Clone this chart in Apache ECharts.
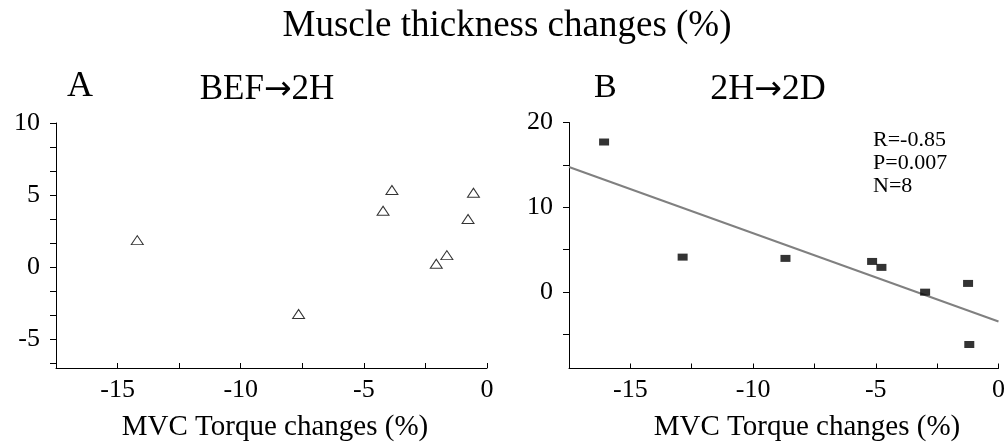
<!DOCTYPE html>
<html>
<head>
<meta charset="utf-8">
<script src="https://cdn.jsdelivr.net/npm/echarts@6/dist/echarts.min.js"></script>
<style>
  html, body { margin: 0; padding: 0; background: #fff; }
  #chart { width: 1008px; height: 445px; }
</style>
</head>
<body>
<div id="chart"></div>
<script>
// Panel A (BEF→2H): MVC torque change vs muscle thickness change, %
const torqueA = [-14.2, -7.65, -4.22, -3.86, -2.06, -1.63, -0.77, -0.55];
const thicknessA = [1.87, -3.25, 3.91, 5.35, 0.23, 0.83, 3.34, 5.16];

// Panel B (2H→2D)
const torqueB = [-16.07, -12.87, -8.68, -5.15, -4.77, -2.99, -1.24, -1.19];
const thicknessB = [17.7, 4.13, 3.98, 3.62, 2.92, 0.0, 1.03, -6.17];

// Regression line of panel B, taken at the ends of the x range
const fitLineB = [[-17.5, 14.76], [0, -3.46]];
const statsB = ['R=-0.85', 'P=0.007', 'N=8'];

// Tick positions and labelled values
const xTicks = [-17.5, -15, -12.5, -10, -7.5, -5, -2.5, 0];
const xLabels = [-15, -10, -5, 0];
const yTicksA = [-20 / 3, -5, -10 / 3, -5 / 3, 0, 5 / 3, 10 / 3, 5, 20 / 3, 25 / 3, 10];
const yLabelsA = [-5, 0, 5, 10];
const yTicksB = [-5, 0, 5, 10, 15, 20];
const yLabelsB = [0, 10, 20];

const FONT = '"Liberation Serif", "Times New Roman", serif';

const pairs = (xs, ys) => xs.map((x, i) => [x, ys[i]]);

function xAxisCfg(gridIndex) {
  return {
    type: 'value', gridIndex, min: -17.5, max: 0,
    axisLine: { show: true, onZero: false, lineStyle: { color: '#000', width: 1 } },
    axisTick: { show: true, inside: true, length: 5, customValues: xTicks, lineStyle: { color: '#000' } },
    axisLabel: { customValues: xLabels, color: '#000', fontFamily: FONT, fontSize: 26, margin: 9 },
    splitLine: { show: false }
  };
}

function yAxisCfg(gridIndex, min, max, ticks, labels) {
  return {
    type: 'value', gridIndex, min, max,
    axisLine: { show: true, onZero: false, lineStyle: { color: '#000', width: 1 } },
    axisTick: { show: true, inside: false, length: 6, customValues: ticks, lineStyle: { color: '#000' } },
    axisLabel: { customValues: labels, color: '#000', fontFamily: FONT, fontSize: 26, margin: 16 },
    splitLine: { show: false }
  };
}

function txt(text, x, y, size, align, rich) {
  const style = {
    text, fill: '#000', fontFamily: FONT, fontSize: size,
    textAlign: align || 'center', textVerticalAlign: 'middle', verticalAlign: 'middle'
  };
  if (rich) style.rich = rich;
  return { type: 'text', x, y, silent: true, style };
}

// the arrow in the panel headings is set in a face with a full-width arrow glyph
const arrowRich = { a: { fontFamily: '"DejaVu Sans"', fontSize: 33, fill: '#000' } };

const chart = echarts.init(document.getElementById('chart'), null, { renderer: 'canvas' });

chart.setOption({
  animation: false,
  backgroundColor: '#fff',
  grid: [
    { left: 56, top: 123, width: 431, height: 245, containLabel: false },
    { left: 569, top: 122.5, width: 432, height: 246, containLabel: false }
  ],
  xAxis: [xAxisCfg(0), xAxisCfg(1)],
  yAxis: [
    yAxisCfg(0, -7, 10, yTicksA, yLabelsA),
    yAxisCfg(1, -9, 20, yTicksB, yLabelsB)
  ],
  series: [
    {
      type: 'scatter', xAxisIndex: 0, yAxisIndex: 0,
      data: pairs(torqueA, thicknessA),
      symbol: 'triangle', symbolSize: [12, 9],
      itemStyle: { color: '#fff', borderColor: '#000', borderWidth: 1 }
    },
    {
      type: 'line', xAxisIndex: 1, yAxisIndex: 1,
      data: fitLineB, showSymbol: false, symbol: 'none',
      lineStyle: { color: '#808080', width: 2 }, z: 1
    },
    {
      type: 'scatter', xAxisIndex: 1, yAxisIndex: 1,
      data: pairs(torqueB, thicknessB),
      symbol: 'rect', symbolSize: [10, 7],
      itemStyle: { color: '#000' }, z: 3
    }
  ],
  graphic: [
    txt('Muscle thickness changes (%)', 507, 26, 37),
    txt('A', 67, 87, 36, 'left'),
    txt('BEF{a|→}2H', 267, 90, 35, 'center', arrowRich),
    txt('B', 594, 88, 34, 'left'),
    txt('2H{a|→}2D', 768, 90, 36, 'center', arrowRich),
    txt('MVC Torque changes (%)', 275, 427, 29),
    txt('MVC Torque changes (%)', 807, 427, 29),
    txt(statsB[0], 873, 140, 22, 'left'),
    txt(statsB[1], 873, 163.5, 22, 'left'),
    txt(statsB[2], 873, 186.5, 22, 'left')
  ]
});
</script>
</body>
</html>
